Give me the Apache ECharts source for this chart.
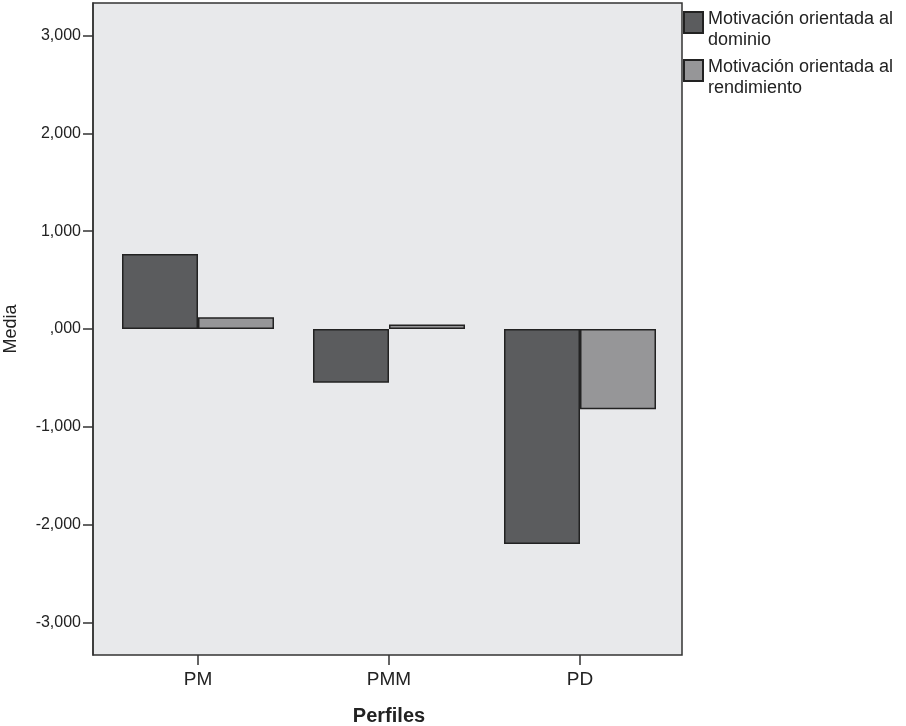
<!DOCTYPE html>
<html>
<head>
<meta charset="utf-8">
<script src="https://cdn.jsdelivr.net/npm/echarts@6/dist/echarts.min.js"></script>
<style>html,body{margin:0;padding:0;background:#fff}#c{width:906px;height:726px}</style>
</head>
<body>
<div id="c"></div>
<script>
var categories = ['PM', 'PMM', 'PD'];
var dominio = [0.768, -0.55, -2.20];
var rendimiento = [0.12, 0.045, -0.82];
var yTicks = [-3, -2, -1, 0, 1, 2, 3];
var seriesNames = ['Motivación orientada al\ndominio', 'Motivación orientada al\nrendimiento'];

function fmt(v) {
  var s = Math.abs(v).toFixed(3).replace('.', ',');
  if (s.charAt(0) === '0') s = s.slice(1);
  return (v < 0 ? '-' : '') + s;
}

var FONT = 'Liberation Sans, Arial, sans-serif';
var YMIN = -3.335, YMAX = 3.335;
var chart = echarts.init(document.getElementById('c'), null, {renderer: 'canvas'});
chart.setOption({
  animation: false,
  backgroundColor: '#ffffff',
  textStyle: {fontFamily: FONT, color: '#222'},
  legend: {
    orient: 'vertical',
    left: 683, top: -5.5,
    padding: 0,
    itemWidth: 19, itemHeight: 21, itemGap: -8,
    icon: 'rect',
    formatter: function (name) { return '{s| }\n' + name; },
    textStyle: {fontFamily: FONT, fontSize: 18, lineHeight: 21, color: '#222',
      rich: {s: {fontSize: 1, lineHeight: 14}}},
    data: seriesNames
  },
  grid: [
    {left: 93, right: 224, top: 3, bottom: 71, show: true, backgroundColor: '#e8e9eb', borderColor: '#333', borderWidth: 1.5, containLabel: false, outerBoundsMode: 'none'},
    {left: 102.5, right: 230.5, top: 3, bottom: 71, containLabel: false, outerBoundsMode: 'none'}
  ],
  xAxis: [
    {gridIndex: 0, type: 'category', data: categories, show: false},
    {gridIndex: 1, type: 'category', data: categories,
     axisLine: {show: false, onZero: false},
     axisTick: {show: true, alignWithLabel: true, length: 10, lineStyle: {color: '#333', width: 1.5}},
     axisLabel: {fontFamily: FONT, fontSize: 19, color: '#222', margin: 15},
     name: 'Perfiles', nameLocation: 'middle', nameGap: 51,
     nameTextStyle: {fontFamily: FONT, fontSize: 20, fontWeight: 'bold', color: '#222'}}
  ],
  yAxis: [
    {gridIndex: 0, type: 'value', min: YMIN, max: YMAX,
     axisLine: {show: true, lineStyle: {color: '#333', width: 1.5}},
     axisTick: {show: true, length: 10, customValues: yTicks, lineStyle: {color: '#333', width: 1.5}},
     axisLabel: {customValues: yTicks, formatter: fmt, fontFamily: FONT, fontSize: 16, color: '#222', margin: 12},
     splitLine: {show: false},
     name: 'Media', nameLocation: 'middle', nameGap: 73,
     nameTextStyle: {fontFamily: FONT, fontSize: 18, color: '#222'}},
    {gridIndex: 1, type: 'value', min: YMIN, max: YMAX, show: false, splitLine: {show: false}}
  ],
  series: [
    {name: seriesNames[0], type: 'bar', xAxisIndex: 1, yAxisIndex: 1, data: dominio,
     barWidth: 76, barGap: '0%',
     itemStyle: {color: '#5b5c5e', borderColor: '#222', borderWidth: 1.5}},
    {name: seriesNames[1], type: 'bar', xAxisIndex: 1, yAxisIndex: 1, data: rendimiento,
     barWidth: 76, barGap: '0%',
     itemStyle: {color: '#969698', borderColor: '#222', borderWidth: 1.5}}
  ]
});
</script>
</body>
</html>
